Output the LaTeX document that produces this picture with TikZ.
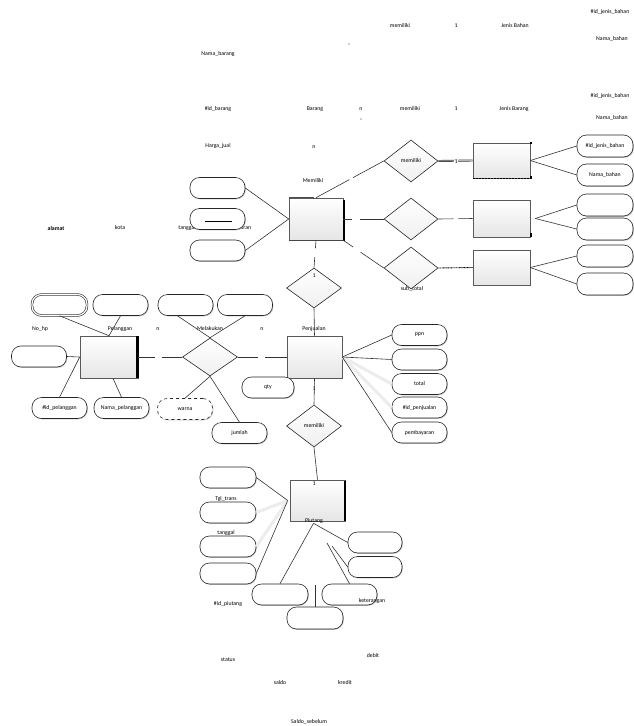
\documentclass[tikz,border=0pt]{standalone}
\usepackage{fontspec}
\setmainfont{Carlito}
\usetikzlibrary{shapes.geometric,shadows,calc}
\begin{document}
\begin{tikzpicture}[x=1pt,y=-1pt,
 lbl/.style={font=\fontsize{5.8}{6}\selectfont, inner sep=0pt},
 ent/.style={draw=gray!70!black, line width=0.6pt, top color=white, bottom color=gray!20, inner sep=0pt},
 rel/.style={diamond, draw=gray!30!black, line width=0.6pt, top color=white, bottom color=gray!12, minimum width=54pt, minimum height=42pt, inner sep=0pt, font=\fontsize{5.8}{6}\selectfont},
 attr/.style={draw=black!85, line width=0.6pt, rounded corners=9.5pt, fill=white, minimum width=55pt, minimum height=21pt, inner sep=0pt, font=\fontsize{5.8}{6}\selectfont, drop shadow={shadow xshift=0.8pt, shadow yshift=-0.8pt, fill=gray!70, opacity=0.7}},
 ln/.style={draw=black!80, line width=0.6pt},
 faint/.style={draw=gray!15, line width=3pt},
]
\useasboundingbox[fill=white] (0,0) rectangle (634,726);

% ---------- floating labels (drawn first) ----------
\node[lbl] (t1) at (610,12) {\#id\_jenis\_bahan};
\node[lbl] (t2) at (400,26) {memiliki};
\node[lbl] (t3) at (456,26) {1};
\node[lbl] (t4) at (515,26) {Jenis Bahan};
\node[lbl] (t5) at (612,39) {Nama\_bahan};
\node[lbl, font=\fontsize{4}{4}\selectfont] (t6) at (349,45) {\textasciicircum};
\node[lbl] (t7) at (218,54) {Nama\_barang};
\node[lbl] (t8) at (610,96) {\#id\_jenis\_bahan};
\node[lbl] (t9) at (218,109) {\#id\_barang};
\node[lbl] (t10) at (315,109) {Barang};
\node[lbl] (t11) at (361,109) {n};
\node[lbl] (t12) at (410,109) {memiliki};
\node[lbl] (t13) at (456,109) {1};
\node[lbl] (t14) at (514,109) {Jenis Barang};
\node[lbl, font=\fontsize{4}{4}\selectfont] (t15) at (361,120) {\textasciicircum};
\node[lbl] (t16) at (612,118) {Nama\_bahan};
\node[lbl] (t17) at (218,146) {Harga\_jual};
\node[lbl] (t18) at (314,147) {n};
\node[lbl] (t19) at (313,181) {Memiliki};
\node[lbl, font=\fontsize{5.8}{6}\selectfont\bfseries] (t20) at (56,228) {alamat};
\node[lbl] (t21) at (120,228) {kota};
\node[lbl] (t22) at (187,228) {tanggal};
\node[lbl] (t23) at (243,228) {ukuran};
\node[lbl] (t24) at (412,289) {sub\_total};
\node[lbl] (t25) at (40,329) {No\_hp};
\node[lbl] (t26) at (120,329) {Pelanggan};
\node[lbl] (t27) at (158,329) {n};
\node[lbl] (t28) at (210,329) {Melakukan};
\node[lbl] (t29) at (262,329) {n};
\node[lbl] (t30) at (314,329) {Penjualan};
\node[lbl] (t31) at (314,389) {1};
\node[lbl] (t32) at (226,499) {Tgl\_trans};
\node[lbl] (t33) at (226,533) {tanggal};
\node[lbl] (t34) at (228,604) {\#id\_piutang};
\node[lbl] (t35) at (373,655) {debit};
\node[lbl] (t36) at (228,660) {status};
\node[lbl] (t37) at (280,682) {saldo};
\node[lbl] (t38) at (345,682) {kredit};
\node[lbl] (t39) at (309,722) {Saldo\_sebelum};

% ---------- entities ----------
\node[ent, minimum width=54pt, minimum height=42pt] (barang) at (316,219) {};
\node[ent, minimum width=57pt, minimum height=35pt] (jb) at (501.5,160.5) {};
\node[ent, minimum width=57pt, minimum height=37pt] (e2) at (501.5,218.5) {};
\node[ent, minimum width=57pt, minimum height=35pt] (e3) at (501.5,267.5) {};
\node[ent, minimum width=58pt, minimum height=42pt] (pel) at (109,357) {};
\node[ent, minimum width=55pt, minimum height=42pt] (penj) at (314.5,357) {};
\node[ent, minimum width=55pt, minimum height=41pt] (piut) at (317.5,500.5) {};

% entity edge accents
\draw[line width=2pt, black] ($(barang.north east)+(1,2)$) -- ($(barang.south east)+(1,1)$);
\draw[line width=1.5pt, gray!60!black] (barang.north west) -- ($(barang.north west)+(25,0)$);
\draw[line width=1.2pt, gray!55!black] (barang.south west) -- (barang.south east);
\draw[line width=2.5pt, black] ($(pel.north east)+(-1,0)$) -- ($(pel.south east)+(-1,0)$);
\draw[line width=2pt, black] ($(piut.north east)+(0,1)$) -- (piut.south east);
\draw[line width=0.8pt, black, dash pattern=on 1pt off 0.5pt] (jb.south west) -- (jb.south east);
\fill[black] ($(jb.north east)+(0,-1)$) rectangle ++(1.5,2.5);
\fill[black] ($(jb.south east)+(0,-2)$) rectangle ++(1.5,2.5);
\fill[black] ($(e2.south east)+(0,-4)$) rectangle ++(1.5,4);

% ---------- relationships ----------
\node[rel] (rel1) at (411,161) {memiliki};
\node[rel] (rel2) at (411,219) {};
\node[rel] (rel3) at (411,268) {};
\node[rel, minimum width=55pt, minimum height=40pt] (relb) at (314,288) {};
\node[lbl] (t40) at (314,276) {1};
\node[rel, minimum width=55pt, minimum height=38pt] (mel) at (210,357) {};
\node[rel, minimum width=55pt, minimum height=42pt] (rel4) at (314,426) {memiliki};
\node[lbl] (t41) at (314,484) {1};
\node[lbl] (t42) at (314,521) {Piutang};

% ---------- attributes ----------
\node[attr] (a1) at (217.5,188) {};
\node[attr] (a2) at (217.5,219) {};
\node[attr] (a3) at (217.5,250.5) {};
\draw[black, line width=0.7pt] ($(a2.center)+(-13,2)$) -- ($(a2.center)+(14,2)$);

\node[attr, minimum width=56pt, minimum height=22pt] (r1) at (605,146) {\#id\_jenis\_bahan};
\node[attr, minimum width=56pt, minimum height=22pt] (r2) at (605,175) {Nama\_bahan};
\node[attr, minimum width=56pt, minimum height=22pt] (r3) at (605,205) {};
\node[attr, minimum width=56pt, minimum height=22pt] (r4) at (605,229) {};
\node[attr, minimum width=56pt, minimum height=22pt] (r5) at (605,256) {};
\node[attr, minimum width=56pt, minimum height=22pt] (r6) at (605,284) {};

\node[attr, double=white, double distance=1.2pt] (p1) at (59.5,305) {};
\node[attr] (p2) at (120.5,305) {};
\node[attr] (p3) at (185.5,305) {};
\node[attr] (p4) at (245,305) {};
\node[attr] (p5) at (39,356.5) {};
\node[attr] (p6) at (59.5,408) {\#id\_pelanggan};
\node[attr] (p7) at (121.5,408) {Nama\_pelanggan};
\node[attr, dashed] (warna) at (185,409) {warna};
\node[attr] (jumlah) at (239.5,433) {jumlah};
\node[attr, minimum width=52pt] (qty) at (268,387.5) {qty};

\node[attr] (ppn) at (419.5,335) {ppn};
\node[attr] (pblank) at (419.5,359.5) {};
\node[attr] (total) at (419.5,384) {total};
\node[attr] (idpj) at (419.5,407.5) {\#id\_penjualan};
\node[attr] (bayar) at (419.5,432.5) {pembayaran};

\node[attr, minimum width=56pt] (L1) at (228,477.5) {};
\node[attr, minimum width=56pt] (L2) at (228,512.5) {};
\node[attr, minimum width=56pt] (L3) at (228,546.5) {};
\node[attr, minimum width=56pt] (L4) at (228,573.5) {};
\node[attr, minimum width=54pt] (R1) at (375,542.5) {};
\node[attr, minimum width=54pt] (R2) at (375,567) {};
\node[attr, minimum width=56pt] (bl) at (280,594.5) {};
\node[attr] (br) at (349.5,594.5) {};
\node[attr, minimum width=56pt, minimum height=22pt] (bc) at (315,618) {};
\node[lbl] (t43) at (372,601) {keterangan};

% ---------- connectors ----------
\draw[ln] (a1.east) -- (barang.west);
\draw[ln] (a3.east) -- (barang.west);
\draw[ln, dash pattern=on 38pt off 4pt on 100pt] (barang.north) -- (rel1.west);
\draw[ln, dash pattern=on 9pt off 8pt on 30pt] (barang.east) -- (rel2.west);
\draw[ln, dash pattern=on 12pt off 9pt on 40pt] (barang.south east) -- (rel3.west);
\draw[ln, double=white, double distance=0.5pt, line width=0.7pt] (rel1.east) -- (jb.west);
\node[lbl, fill=white, inner sep=0.3pt] (t44) at (456,162) {1};
\draw[ln, dash pattern=on 15pt off 5pt on 20pt] (rel2.east) -- (e2.west);
\draw[black, line width=0.9pt, dash pattern=on 1pt off 0.6pt] (rel3.east) -- (e3.west);

\draw[ln] (jb.east) -- (r1.west);
\draw[ln] (jb.east) -- (r2.west);
\draw[ln] ($(e2.east)+(5,0)$) coordinate (e2x) -- (r3.west);
\draw[ln] (e2x) -- (r4.west);
\draw[ln] (e3.east) -- (r5.west);
\draw[ln] (e3.east) -- (r6.west);

\draw[ln, dash pattern=on 8pt off 9pt on 20pt] (barang.south) -- (relb.north);
\draw[ln] (relb.south) -- (penj.north);

\draw[ln] (p1.south) -- (pel.north);
\draw[ln] (p2.south) -- (pel.north);
\draw[ln] (p5.east) -- (pel.west);
\draw[ln] (p6.north) -- (pel.west);
\draw[ln] (p7.north) -- ($(pel.south)+(4,0)$) coordinate (pels);
\draw[ln, dash pattern=on 17pt off 7pt on 40pt] (pel.east) -- (mel.west);
\draw[ln, dash pattern=on 20pt off 7pt on 40pt] (mel.east) -- (penj.west);
\draw[ln] ($(p3.south)+(-8,0)$) coordinate (p3s) -- (mel.north);
\draw[ln] (p4.south) -- (mel.north);
\draw[ln] (mel.south) -- (warna.north);
\draw[ln] (mel.south) -- (jumlah.north);

\draw[faint] (penj.east) -- (total.west);
\draw[faint] (penj.east) -- (idpj.west);
\draw[ln] (penj.east) -- (ppn.west);
\draw[ln] (penj.east) -- (pblank.west);
\draw[ln] (penj.east) -- (bayar.west);
\draw[ln] (penj.south) -- (rel4.north);
\draw[ln] (rel4.south) -- (piut.north);

\coordinate (pw) at ($(piut.west)+(-2,0)$);
\draw[faint] (pw) -- (L2.east);
\draw[faint] (pw) -- (L3.east);
\draw[ln] (pw) -- (L1.east);
\draw[ln] (pw) -- (L4.east);
\coordinate (ps) at ($(piut.south)+(-4,2)$);
\draw[ln] (ps) -- (bl.north);
\draw[ln] (ps) -- (R1.west);
\coordinate (pa) at (327,543);
\coordinate (pb) at (332,546);
\draw[ln] (pa) -- (br.north);
\draw[ln] (pb) -- (R2.west);
\coordinate (pc) at (315,585);
\draw[ln] (pc) -- (bc.north);
\end{tikzpicture}
\end{document}
